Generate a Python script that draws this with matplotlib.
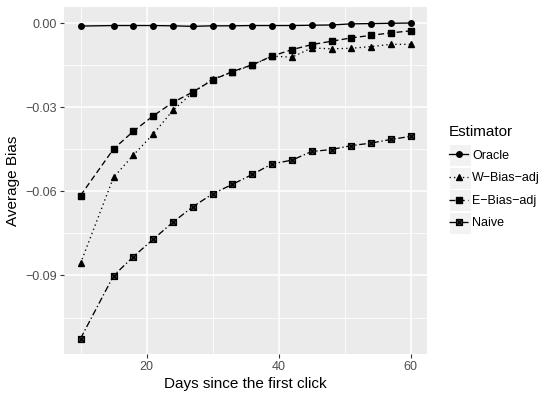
import matplotlib
matplotlib.use("Agg")
import matplotlib.pyplot as plt
from matplotlib.path import Path
from matplotlib.patches import Rectangle
from matplotlib.ticker import MultipleLocator
import numpy as np

plt.rcParams['font.family'] = ['Liberation Sans', 'DejaVu Sans']

days = [10, 15, 18, 21, 24, 27, 30, 33, 36, 39, 42, 45, 48, 51, 54, 57, 60]
oracle = [-0.0011, -0.0009, -0.0009, -0.0009, -0.0010, -0.0012, -0.0010, -0.0010,
          -0.0009, -0.0009, -0.0009, -0.0008, -0.0007, -0.0003, -0.0002, -0.0001, 0.0000]
w_bias = [-0.0857, -0.0550, -0.0471, -0.0396, -0.0311, -0.0248, -0.0200, -0.0175,
          -0.0150, -0.0118, -0.0122, -0.0089, -0.0092, -0.0090, -0.0084, -0.0076, -0.0076]
e_bias = [-0.0615, -0.0449, -0.0386, -0.0331, -0.0283, -0.0246, -0.0203, -0.0173,
          -0.0149, -0.0118, -0.0095, -0.0077, -0.0065, -0.0053, -0.0044, -0.0035, -0.0028]
naive = [-0.1125, -0.0901, -0.0833, -0.0771, -0.0710, -0.0655, -0.0609, -0.0575,
         -0.0540, -0.0502, -0.0489, -0.0458, -0.0451, -0.0437, -0.0428, -0.0415, -0.0404]

labels = ['Oracle', 'W\u2212Bias\u2212adj', 'E\u2212Bias\u2212adj', 'Naive']

# square with X marker
sqx = Path([(-1, -1), (1, -1), (1, 1), (-1, 1), (-1, -1), (1, 1), (-1, 1), (1, -1)],
           [Path.MOVETO, Path.LINETO, Path.LINETO, Path.LINETO, Path.LINETO,
            Path.LINETO, Path.MOVETO, Path.LINETO])

W, H = 545, 397
fig = plt.figure(figsize=(W/100, H/100), dpi=100)
ax = fig.add_axes([64/W, 1-354.3/H, (427.3-64)/W, (354.3-7.3)/H])
ax.set_facecolor('#EBEBEB')
for s in ax.spines.values():
    s.set_visible(False)

ax.set_xlim(7.5, 62.5)
ax.set_ylim(-0.1181, 0.0056)
ax.xaxis.set_major_locator(MultipleLocator(20))
ax.xaxis.set_minor_locator(MultipleLocator(10))
ax.set_yticks([0.0, -0.03, -0.06, -0.09])
ax.set_yticks([-0.015, -0.045, -0.075, -0.105], minor=True)
ax.set_yticklabels(['0.00', '\u22120.03', '\u22120.06', '\u22120.09'])
ax.grid(which='major', color='white', lw=1.1)
ax.grid(which='minor', color='white', lw=0.55)
ax.set_axisbelow(True)
ax.tick_params(which='major', length=3, color='#333333', width=0.8,
               labelsize=9, labelcolor='#4D4D4D', pad=2)
ax.tick_params(which='minor', length=0)

lw = 0.95
h1, = ax.plot(days, oracle, color='black', lw=lw, ls='-', marker='o', ms=4)
h2, = ax.plot(days, w_bias, color='black', lw=lw, ls=(0, (1, 2.4)), marker='^', ms=4.5)
h3, = ax.plot(days, e_bias, color='black', lw=lw, ls=(0, (4.5, 2.5)), marker='s', ms=4)
h4, = ax.plot(days, naive, color='black', lw=lw, ls=(0, (5, 2, 1, 2)), marker=sqx, ms=4.3,
              mfc='#444444', mew=0.9)

ax.set_xlabel('Days since the first click', fontsize=11, labelpad=3)
ax.set_ylabel('Average Bias', fontsize=11, labelpad=4)

leg = fig.legend([h1, h2, h3, h4], labels, title='Estimator',
                 loc='upper left', bbox_to_anchor=(449/W, 1-125/H),
                 frameon=False, fontsize=9, title_fontsize=11,
                 handlelength=1.55, handletextpad=0.3, labelspacing=0.85,
                 alignment='left', borderaxespad=0, borderpad=0)

# grey key backgrounds like ggplot
fig.canvas.draw()
for t in leg.get_texts():
    bb = t.get_window_extent()
    cy = (bb.y0 + bb.y1) / 2
    fig.add_artist(Rectangle((449.5/W, (cy - 10.5)/H), 21/W, 21/H,
                             transform=fig.transFigure, facecolor='#F2F2F2',
                             edgecolor='none', zorder=1))

fig.savefig('out.png', dpi=100)
